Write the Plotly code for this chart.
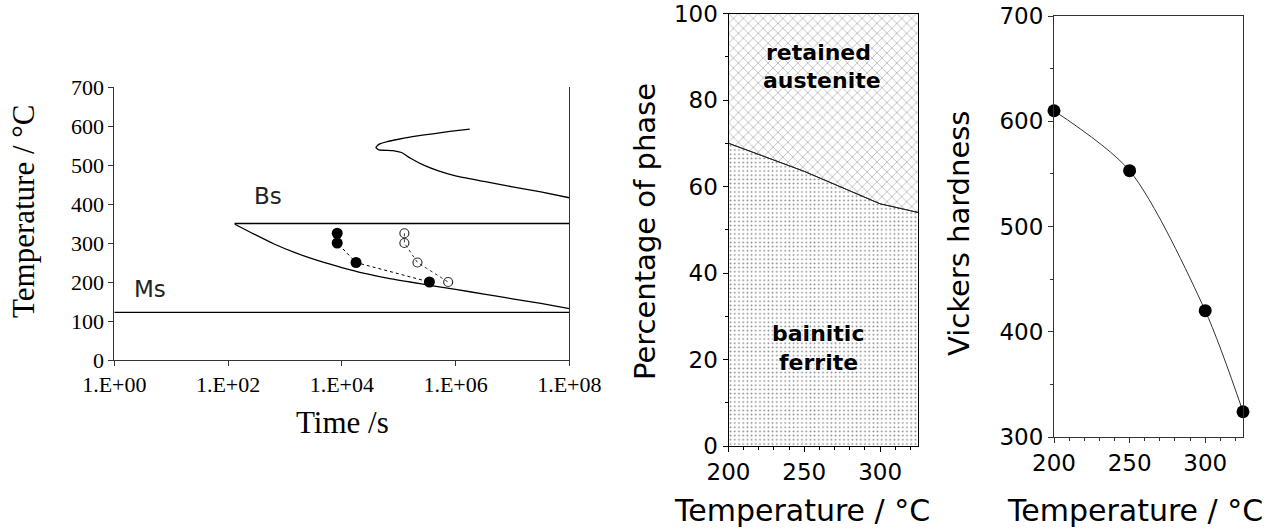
import plotly.graph_objects as go

# ---------------- Left panel: TTT diagram ----------------
bs_temp = 350
bs_time = [130, 1e8]
ms_temp = 122
ms_time = [1, 1e8]

lower_log_t = [2.12, 2.4, 2.8, 3.2, 3.6, 4.0, 4.4, 4.8, 5.2, 5.6, 6.0, 6.5, 7.0, 7.5, 8.0]
lower_T = [348, 327, 298, 274, 254, 237, 222, 210, 200, 190, 181, 169, 157, 145, 132]

upper_log_t = [6.25, 5.9, 5.6, 5.3, 5.0, 4.8, 4.65, 4.6, 4.65, 4.9, 5.05, 5.2, 5.45, 5.7, 6.0, 6.5, 7.0, 7.5, 8.0]
upper_T = [592, 586, 580, 574, 566, 560, 553, 545, 539, 537, 532, 518, 499, 485, 472, 458, 444, 431, 416]

filled_time = [8300, 8300, 17800, 347000]
filled_T = [325, 300, 250, 200]
open_time = [126000, 126000, 214000, 741000]
open_T = [325, 300, 250, 200]

left_xtick_vals = [1, 1e2, 1e4, 1e6, 1e8]
left_xtick_text = ["1.E+00", "1.E+02", "1.E+04", "1.E+06", "1.E+08"]

# ---------------- Middle panel: phase fractions ----------------
phase_temp = [200, 250, 300, 325]
ferrite_pct = [70, 63.5, 56, 54]

# ---------------- Right panel: hardness ----------------
hard_temp = [200, 250, 300, 325]
hardness = [610, 553, 420, 324]

fig = go.Figure()

# Left panel traces
fig.add_trace(go.Scatter(x=ms_time, y=[ms_temp] * 2, mode="lines",
                         line=dict(color="black", width=1.3), xaxis="x", yaxis="y"))
fig.add_trace(go.Scatter(x=bs_time, y=[bs_temp] * 2, mode="lines",
                         line=dict(color="black", width=1.3), xaxis="x", yaxis="y"))
fig.add_trace(go.Scatter(x=[10 ** v for v in lower_log_t], y=lower_T, mode="lines",
                         line=dict(color="black", width=1.3, shape="spline", smoothing=0.6),
                         xaxis="x", yaxis="y"))
fig.add_trace(go.Scatter(x=[10 ** v for v in upper_log_t], y=upper_T, mode="lines",
                         line=dict(color="black", width=1.3, shape="spline", smoothing=0.4),
                         xaxis="x", yaxis="y"))
fig.add_trace(go.Scatter(x=filled_time, y=filled_T, mode="lines+markers",
                         line=dict(color="black", width=1, dash="3px,3px"),
                         marker=dict(color="black", size=11, symbol="circle"),
                         xaxis="x", yaxis="y"))
fig.add_trace(go.Scatter(x=open_time, y=open_T, mode="lines+markers",
                         line=dict(color="#333333", width=1, dash="3px,3px"),
                         marker=dict(color="#333333", size=9, symbol="circle-open",
                                     line=dict(width=1.2)),
                         xaxis="x", yaxis="y"))

# Middle panel traces
fig.add_trace(go.Scatter(x=phase_temp, y=ferrite_pct, mode="lines", fill="tozeroy",
                         fillcolor="white",
                         fillpattern=dict(shape=".", fgcolor="black", bgcolor="white",
                                          size=4.2, solidity=0.14),
                         line=dict(color="#333333", width=1),
                         xaxis="x2", yaxis="y2"))
fig.add_trace(go.Scatter(x=phase_temp, y=[100] * len(phase_temp), mode="lines", fill="tonexty",
                         fillcolor="white",
                         fillpattern=dict(shape="x", fgcolor="#111111", bgcolor="white",
                                          size=7, solidity=0.14),
                         line=dict(color="black", width=0),
                         xaxis="x2", yaxis="y2"))
fig.add_trace(go.Scatter(x=phase_temp, y=ferrite_pct, mode="lines",
                         line=dict(color="#222222", width=1),
                         xaxis="x2", yaxis="y2"))

# Right panel traces
fig.add_trace(go.Scatter(x=hard_temp, y=hardness, mode="lines+markers",
                         line=dict(color="#333333", width=1, shape="spline", smoothing=0.8),
                         marker=dict(color="black", size=13),
                         cliponaxis=False, xaxis="x3", yaxis="y3"))

serif = "Liberation Serif"
sans = "DejaVu Sans"
W, H = 1267, 529

def px(xp):
    return xp / W

def py(yp):
    return 1 - yp / H

common = dict(showgrid=False, zeroline=False, automargin=False, showline=True, linewidth=1)

fig.update_layout(
    width=W, height=H,
    margin=dict(l=0, r=0, t=0, b=0),
    paper_bgcolor="white", plot_bgcolor="white",
    showlegend=False,
    xaxis=dict(domain=[px(114.3), px(569.3)], type="log", range=[0, 8],
               tickvals=left_xtick_vals, ticktext=left_xtick_text,
               ticks="outside", ticklen=5, tickcolor="#333", linecolor="#333",
               tickfont=dict(family=serif, size=22, color="black"), anchor="y", **common),
    yaxis=dict(domain=[py(360), py(87)], range=[0, 700], dtick=100,
               ticks="outside", ticklen=5, tickcolor="#333", mirror=True, linecolor="#333",
               tickfont=dict(family=serif, size=22, color="black"), anchor="x", **common),
    xaxis2=dict(domain=[px(728.5), px(918)], range=[200, 325],
                tickvals=[200, 250, 300], ticks="outside", ticklen=5, tickcolor="black",
                minor=dict(dtick=10, tick0=200, ticks="outside", ticklen=3, tickcolor="black"),
                mirror=True, linecolor="black",
                tickfont=dict(family=sans, size=23, color="black"), anchor="y2", **common),
    yaxis2=dict(domain=[py(446), py(13.5)], range=[0, 100], dtick=20,
                ticks="outside", ticklen=5, tickcolor="black",
                minor=dict(dtick=10, tick0=0, ticks="outside", ticklen=3, tickcolor="black"),
                mirror=True, linecolor="black",
                tickfont=dict(family=sans, size=23, color="black"), anchor="x2", **common),
    xaxis3=dict(domain=[px(1054), px(1243)], range=[200, 325],
                tickvals=[200, 250, 300], ticks="outside", ticklen=5, tickcolor="#333",
                minor=dict(dtick=10, tick0=200, ticks="outside", ticklen=3, tickcolor="#333"),
                mirror=True, linecolor="#333",
                tickfont=dict(family=sans, size=23, color="black"), anchor="y3", **common),
    yaxis3=dict(domain=[py(437), py(16)], range=[300, 700], dtick=100,
                ticks="outside", ticklen=5, tickcolor="#333",
                minor=dict(dtick=50, tick0=300, ticks="outside", ticklen=3, tickcolor="#333"),
                mirror=True, linecolor="#333",
                tickfont=dict(family=sans, size=23, color="black"), anchor="x3", **common),
)

halo = "0px 0px 2px white, 0px 0px 2px white, 0px 0px 3px white"
annotations = [
    # left panel titles
    dict(text="Temperature / °C", x=px(23), y=py(212), textangle=-90,
         font=dict(family=serif, size=31, color="black")),
    dict(text="Time /s", x=px(342), y=py(422),
         font=dict(family=serif, size=31, color="black")),
    # Bs / Ms labels
    dict(text="Bs", x=px(268), y=py(196), font=dict(family=sans, size=23, color="#222")),
    dict(text="Ms", x=px(150), y=py(289), font=dict(family=sans, size=23, color="#222")),
    # middle panel titles
    dict(text="Percentage of phase", x=px(645), y=py(231), textangle=-90,
         font=dict(family=sans, size=29, color="black")),
    dict(text="Temperature / °C", x=px(802), y=py(510),
         font=dict(family=sans, size=30, color="black")),
    # right panel titles
    dict(text="Vickers hardness", x=px(959), y=py(233), textangle=-90,
         font=dict(family=sans, size=29, color="black")),
    dict(text="Temperature / °C", x=px(1135), y=py(510),
         font=dict(family=sans, size=30, color="black")),
    # region labels
    dict(text="<b>retained</b>", x=px(818), y=py(53),
         font=dict(family=sans, size=22, color="black", shadow=halo)),
    dict(text="<b>austenite</b>", x=px(822), y=py(80),
         font=dict(family=sans, size=22, color="black", shadow=halo)),
    dict(text="<b>bainitic</b>", x=px(818), y=py(333),
         font=dict(family=sans, size=22, color="black", shadow=halo)),
    dict(text="<b>ferrite</b>", x=px(818), y=py(362),
         font=dict(family=sans, size=22, color="black", shadow=halo)),
]
for a in annotations:
    a.update(xref="paper", yref="paper", showarrow=False, xanchor="center", yanchor="middle")
fig.update_layout(annotations=annotations)

fig.write_html("out.html", config={"displayModeBar": False},
               post_script="document.body.style.margin='0';document.body.style.overflow='hidden';")
